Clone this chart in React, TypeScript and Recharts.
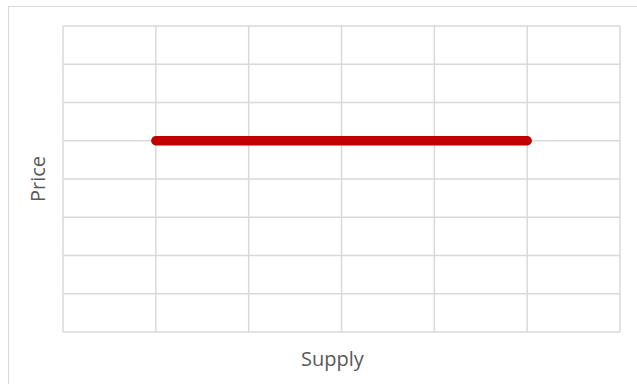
import React from 'react';
import { LineChart, Line, XAxis, YAxis, CartesianGrid } from 'recharts';

// Supply quantities along the horizontal axis and the constant price level
const supplyPoints = [1, 2, 3, 4, 5];
const priceValues = [5, 5, 5, 5, 5];
const xTicks = [0, 1, 2, 3, 4, 5, 6];
const yTicks = [0, 1, 2, 3, 4, 5, 6, 7, 8];

const data = supplyPoints.map((s, i) => ({ supply: s, price: priceValues[i] }));

const FONT = '"Open Sans", "Noto Sans", sans-serif';
const TEXT_COLOR = '#595959';
const GRID_COLOR = '#d9d9d9';

// Tick labels are not shown; the ticks only place the grid lines
const EmptyTick = () => <g />;

export default function App() {
  return (
    <div
      style={{
        position: 'absolute',
        left: 0,
        top: 0,
        width: 637,
        height: 384,
        overflow: 'hidden',
        background: '#ffffff',
      }}
    >
      <div
        style={{
          position: 'absolute',
          left: 8,
          top: 6,
          width: 700,
          height: 500,
          border: `1.5px solid ${GRID_COLOR}`,
          boxSizing: 'border-box',
        }}
      />
      <div style={{ position: 'absolute', left: 0, top: 0 }}>
        <LineChart
          width={637}
          height={384}
          data={data}
          margin={{ top: 26, right: 17, bottom: 0, left: 0 }}
        >
          <CartesianGrid stroke={GRID_COLOR} strokeWidth={1.5} />
          <XAxis
            dataKey="supply"
            type="number"
            domain={[0, 6]}
            ticks={xTicks}
            interval={0}
            tick={EmptyTick}
            tickLine={false}
            axisLine={false}
            height={52}
            label={{
              value: 'Supply',
              position: 'insideBottom',
              offset: 18,
              dx: -9,
              fill: TEXT_COLOR,
              fontSize: 20,
              fontFamily: FONT,
            }}
          />
          <YAxis
            type="number"
            domain={[0, 8]}
            ticks={yTicks}
            interval={0}
            tick={EmptyTick}
            tickLine={false}
            axisLine={false}
            width={63}
            label={{
              value: 'Price',
              angle: -90,
              position: 'insideLeft',
              offset: 38,
              fill: TEXT_COLOR,
              fontSize: 20,
              fontFamily: FONT,
              style: { textAnchor: 'middle' },
            }}
          />
          <Line
            dataKey="price"
            stroke="#c00000"
            strokeWidth={9.5}
            strokeLinecap="round"
            dot={false}
            activeDot={false}
            isAnimationActive={false}
          />
        </LineChart>
      </div>
    </div>
  );
}
